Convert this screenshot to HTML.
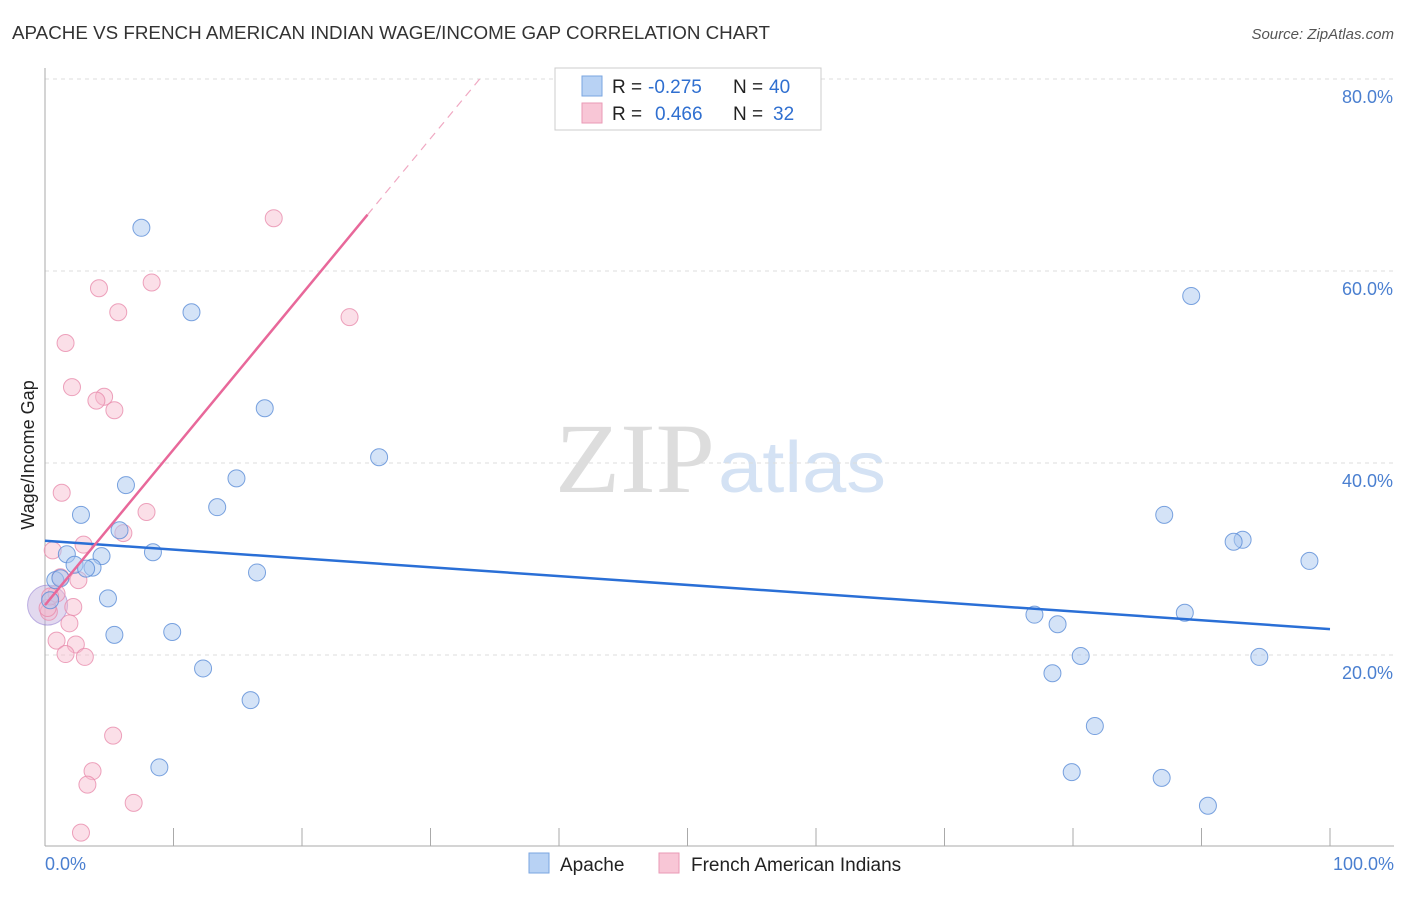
<!DOCTYPE html>
<html><head><meta charset="utf-8"><style>
body{margin:0;background:#fff;font-family:"Liberation Sans",sans-serif}
svg text{font-family:"Liberation Sans",sans-serif}
</style></head><body>
<svg id="chart" width="1406" height="892" xmlns="http://www.w3.org/2000/svg">
<text x="12" y="39" font-size="18" fill="#333" textLength="758" lengthAdjust="spacingAndGlyphs">APACHE VS FRENCH AMERICAN INDIAN WAGE/INCOME GAP CORRELATION CHART</text>
<text x="1394" y="39" font-size="15" fill="#555" font-style="italic" text-anchor="end">Source: ZipAtlas.com</text>
<text x="34" y="455" font-size="18" fill="#222" transform="rotate(-90 34 455)" text-anchor="middle">Wage/Income Gap</text>
<text x="555" y="492" font-size="100" fill="#ddd" textLength="160" lengthAdjust="spacingAndGlyphs" style="font-family:'Liberation Serif',serif">ZIP</text>
<text x="718" y="492" font-size="72" fill="#d4e2f4" textLength="168" lengthAdjust="spacingAndGlyphs">atlas</text>
<g id="grid"></g><g id="axes"></g>
<g id="pts"></g><g id="lines"></g>
<g>
<rect x="555" y="68" width="266" height="62" fill="#fff" stroke="#ccc"/>
<rect x="582" y="76" width="20" height="20" fill="#b8d2f4" stroke="#7aa6e0"/>
<rect x="582" y="103" width="20" height="20" fill="#f8c6d6" stroke="#ea9ab6"/>
<text x="612" y="93" font-size="19" fill="#222">R =</text>
<text x="648" y="93" font-size="19" fill="#2f6fd0">-0.275</text>
<text x="733" y="93" font-size="19" fill="#222">N =</text>
<text x="769" y="93" font-size="19" fill="#2f6fd0">40</text>
<text x="612" y="120" font-size="19" fill="#222">R =</text>
<text x="655" y="120" font-size="19" fill="#2f6fd0">0.466</text>
<text x="733" y="120" font-size="19" fill="#222">N =</text>
<text x="773" y="120" font-size="19" fill="#2f6fd0">32</text>
</g>
<g>
<rect x="529" y="853" width="20" height="20" fill="#b8d2f4" stroke="#7aa6e0"/>
<text x="560" y="871" font-size="19" fill="#222">Apache</text>
<rect x="659" y="853" width="20" height="20" fill="#f8c6d6" stroke="#ea9ab6"/>
<text x="691" y="871" font-size="19" fill="#222">French American Indians</text>
</g>
</svg>
<script>
const yTicks=[20,40,60,80];
const xTickLabels=["0.0%","100.0%"];
const apacheX=[7.5,11.4,17.1,26.0,14.9,6.3,13.4,2.8,5.8,8.4,1.7,4.4,2.3,3.7,3.2,16.5,0.8,1.2,4.9,0.4,9.9,5.4,12.3,16.0,8.9,89.2,87.1,93.2,92.5,98.4,77.0,78.8,88.7,80.6,94.5,78.4,81.7,79.9,86.9,90.5];
const apacheY=[64.5,55.7,45.7,40.6,38.4,37.7,35.4,34.6,33.0,30.7,30.5,30.3,29.4,29.1,29.0,28.6,27.8,28.0,25.9,25.7,22.4,22.1,18.6,15.3,8.3,57.4,34.6,32.0,31.8,29.8,24.2,23.2,24.4,19.9,19.8,18.1,12.6,7.8,7.2,4.3];
const frenchX=[17.8,8.3,4.2,5.7,23.7,1.6,2.1,4.6,4.0,5.4,1.3,7.9,6.1,3.0,0.6,2.6,1.2,0.9,2.2,0.3,1.9,0.9,2.4,1.6,3.1,5.3,3.7,3.3,6.9,2.8,0.2,0.4];
const frenchY=[65.5,58.8,58.2,55.7,55.2,52.5,47.9,46.9,46.5,45.5,36.9,34.9,32.7,31.5,30.9,27.8,28.1,26.4,25.0,24.5,23.3,21.5,21.1,20.1,19.8,11.6,7.9,6.5,4.6,1.5,24.9,26.1];
const apacheTrend=[31.9,22.7];
const frenchTrend=[25.2,1.62];
const NS="http://www.w3.org/2000/svg";
const sx=v=>45+v*12.85, sy=v=>847-v*9.6;
function mk(tag,parent,attrs){const e=document.createElementNS(NS,tag);for(const k in attrs)e.setAttribute(k,attrs[k]);document.getElementById(parent).appendChild(e);return e;}
yTicks.forEach(t=>{
 const l=mk('line','grid',{x1:45,x2:1394,y1:sy(t),y2:sy(t),stroke:'#ddd','stroke-dasharray':'4,4'});
 
 
 const tx=mk('text','grid',{x:1393,y:sy(t)+24,'font-size':18,fill:'#4a7fd0','text-anchor':'end'});
 tx.textContent=t.toFixed(1)+'%';
 
 
});
let ax=mk('line','axes',{x1:45,x2:45,y1:68,y2:846,stroke:'#aaa'});


ax=mk('line','axes',{x1:45,x2:1394,y1:846,y2:846,stroke:'#aaa'});


for(let i=1;i<=10;i++){const t=mk('line','axes',{x1:sx(i*10),x2:sx(i*10),y1:828,y2:846,stroke:'#aaa'});
 
 }
[[0,'start',45],[1,'end',1394]].forEach(([i,a,x])=>{const t=mk('text','axes',{x:x,y:870,'font-size':18,fill:'#4a7fd0','text-anchor':a});t.textContent=xTickLabels[i];
 
 });
const big=mk('circle','pts',{cx:sx(0.2),cy:sy(25.2),r:20,fill:'rgba(190,170,220,0.45)',stroke:'rgba(150,130,210,0.6)'});


frenchX.forEach((x,i)=>{const c=mk('circle','pts',{cx:sx(x),cy:sy(frenchY[i]),r:8.5,fill:'rgba(246,185,205,0.45)',stroke:'rgba(232,140,172,0.8)'});
 
 });
apacheX.forEach((x,i)=>{const c=mk('circle','pts',{cx:sx(x),cy:sy(apacheY[i]),r:8.5,fill:'rgba(170,200,240,0.5)',stroke:'rgba(90,140,215,0.8)'});
 
 });
let tl=mk('line','lines',{x1:sx(0),y1:sy(apacheTrend[0]),x2:sx(100),y2:sy(apacheTrend[1]),stroke:'#2a6fd6','stroke-width':2.5});


const xe=25.1,xd=33.9;
tl=mk('line','lines',{x1:sx(0),y1:sy(frenchTrend[0]),x2:sx(xe),y2:sy(frenchTrend[0]+frenchTrend[1]*xe),stroke:'#e8689a','stroke-width':2.5});


tl=mk('line','lines',{x1:sx(xe),y1:sy(frenchTrend[0]+frenchTrend[1]*xe),x2:sx(xd),y2:sy(frenchTrend[0]+frenchTrend[1]*xd),stroke:'#f0a8c2','stroke-width':1.2,'stroke-dasharray':'8,6'});


</script>
</body></html>
